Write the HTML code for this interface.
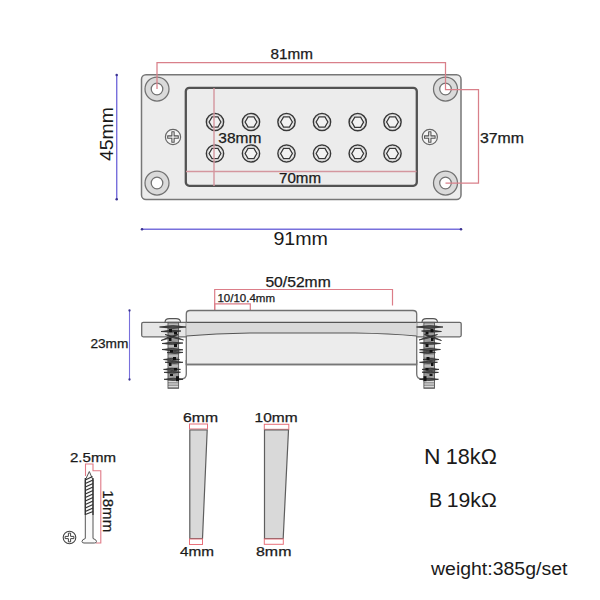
<!DOCTYPE html>
<html><head><meta charset="utf-8">
<style>
html,body{margin:0;padding:0;background:#fff;width:600px;height:600px;overflow:hidden}
svg{display:block}
text{font-family:"Liberation Sans",sans-serif;fill:#1a1a1a}
.s{stroke:#1a1a1a;stroke-width:0.25}
</style></head>
<body>
<svg width="600" height="600" viewBox="0 0 600 600">
<defs>
  <g id="pole">
    <circle r="8.6" fill="#f8f8f8" stroke="#383838" stroke-width="1.5"/>
    <circle r="7.3" fill="none" stroke="#c0c0c0" stroke-width="0.6"/>
    <polygon points="5.9,0 2.95,5.1 -2.95,5.1 -5.9,0 -2.95,-5.1 2.95,-5.1" fill="#f2f2f2" stroke="#383838" stroke-width="1.3"/>
  </g>
  <g id="washer">
    <circle r="12" fill="#dadada" stroke="#727272" stroke-width="1.25"/>
    <circle r="5.8" fill="#fff" stroke="#727272" stroke-width="1.25"/>
  </g>
  <g id="phil">
    <circle r="7.6" fill="#f4f4f4" stroke="#666" stroke-width="1.2"/>
    <path d="M-1.15,-5.3 h2.3 v4.15 h4.15 v2.3 h-4.15 v4.15 h-2.3 v-4.15 h-4.15 v-2.3 h4.15 z" fill="#e6e6e6" stroke="#555" stroke-width="1.05" stroke-linejoin="round"/>
  </g>
</defs>

<!-- ===== TOP VIEW ===== -->
<rect x="141.5" y="74.7" width="319.5" height="124.8" rx="4.5" fill="#ececec" stroke="#777" stroke-width="1.5"/>
<rect x="185.8" y="87.8" width="231" height="98" rx="3.5" fill="#ececec" stroke="#525252" stroke-width="2.3"/>

<use href="#washer" x="157" y="89"/>
<use href="#washer" x="157" y="183"/>
<use href="#washer" x="445.5" y="89"/>
<use href="#washer" x="445.5" y="183"/>

<use href="#phil" x="173" y="137"/>
<use href="#phil" x="429.8" y="137"/>

<use href="#pole" x="215" y="122"/>
<use href="#pole" x="251" y="122"/>
<use href="#pole" x="286.5" y="122"/>
<use href="#pole" x="322" y="122"/>
<use href="#pole" x="357.7" y="122.2"/>
<use href="#pole" x="392.5" y="122"/>
<use href="#pole" x="215" y="153.5"/>
<use href="#pole" x="251" y="153.5"/>
<use href="#pole" x="286.5" y="153.5"/>
<use href="#pole" x="322" y="153.5"/>
<use href="#pole" x="357.7" y="153.5"/>
<use href="#pole" x="392.5" y="153.5"/>

<!-- red dims -->
<g fill="none" stroke="#d9808a" stroke-width="1.25">
  <polyline points="157,89 157,62.5 445.5,62.5 445.5,89.5 478.5,89.5 478.5,183 445.5,183"/>
</g>
<g fill="none" stroke="#d4969e" stroke-width="1.4">
  <line x1="214" y1="88" x2="214" y2="186"/>
  <line x1="186" y1="171.5" x2="416.5" y2="171.5"/>
</g>
<text class="s" x="270.6" y="59.3" font-size="14" textLength="42.4" lengthAdjust="spacingAndGlyphs">81mm</text>
<text class="s" x="218.3" y="143" font-size="14.5" textLength="43" lengthAdjust="spacingAndGlyphs">38mm</text>
<text class="s" x="279.0" y="183" font-size="13.8" textLength="42" lengthAdjust="spacingAndGlyphs">70mm</text>
<text class="s" x="480.0" y="142.8" font-size="13.8" textLength="44.0" lengthAdjust="spacingAndGlyphs">37mm</text>

<!-- blue dims -->
<g stroke="#7870dc" stroke-width="1.45" fill="#3a3290">
  <line x1="116.7" y1="75" x2="116.7" y2="199"/>
  <line x1="142" y1="229.3" x2="461" y2="229.3"/>
</g>
<g fill="#3a3290">
  <circle cx="116.7" cy="75" r="1.25"/><circle cx="116.7" cy="199.3" r="1.25"/>
  <circle cx="142" cy="229.3" r="1.25"/><circle cx="461" cy="229.3" r="1.25"/>
</g>
<text transform="translate(113.2,161) rotate(-90)" font-size="18" textLength="53.8" lengthAdjust="spacingAndGlyphs">45mm</text>
<text x="273.4" y="244.8" font-size="17.5" textLength="54.6" lengthAdjust="spacingAndGlyphs">91mm</text>

<!-- ===== SIDE VIEW ===== -->
<g fill="none" stroke="#dc7d88" stroke-width="1.2">
  <polyline points="214.7,310 214.7,289.5 392.5,289.5 392.5,305.5"/>
  <polyline points="214.7,310 214.7,303.8 250.3,303.8 250.3,310"/>
</g>
<text class="s" x="265.4" y="286.7" font-size="14" textLength="65.3" lengthAdjust="spacingAndGlyphs">50/52mm</text>
<text class="s" x="217.4" y="301.6" font-size="10.6" textLength="57.6" lengthAdjust="spacingAndGlyphs">10/10.4mm</text>

<!-- legs -->
<path d="M186.3,360 V374 Q186.3,379 181,379 H178" fill="none" stroke="#777" stroke-width="1.4"/>
<path d="M416.7,360 V374 Q416.7,379 422,379 H424" fill="none" stroke="#777" stroke-width="1.4"/>
<!-- flange -->
<rect x="141.7" y="322.3" width="319.5" height="14.5" rx="1.5" fill="#e6e6e6" stroke="#6a6a6a" stroke-width="1.3"/>
<!-- body -->
<path d="M186.3,364.5 V314 Q186.3,310.5 190,310.5 H413 Q416.7,310.5 416.7,314 V364.5 Z" fill="#ececec" stroke="#707070" stroke-width="1.3"/>
<path d="M186.3,322.3 H416.7 V336 Q390,333.5 355,333 H250 Q215,333.5 186.3,336 Z" fill="#d9d9d9" stroke="none"/>
<path d="M186.3,336 Q215,333.5 250,333 H355 Q390,333.5 416.7,336" fill="none" stroke="#555" stroke-width="1.2"/>
<line x1="186.3" y1="322.3" x2="416.7" y2="322.3" stroke="#555" stroke-width="1.3"/>
<line x1="186.3" y1="364.5" x2="416.7" y2="364.5" stroke="#777" stroke-width="1.3"/>

<!-- screws w/ springs -->
<g id="sscrew">
  <path d="M165,322.3 Q165,318.6 169.5,318.6 H176 Q180.5,318.6 180.5,322.3 Z" fill="#f4f4f4" stroke="#555" stroke-width="1.1"/>
  <rect x="168" y="322.3" width="10.6" height="66" fill="#9a9a9a" stroke="#555" stroke-width="0.9"/>
  <g stroke="#e0e0e0" stroke-width="0.9"><path d="M168.5,381.5 h9.6 M168.5,384 h9.6 M168.5,386.5 h9.6 M168.5,325 h9.6 M168.5,346 h9.6 M168.5,356 h9.6 M168.5,366 h9.6"/></g>
  <g fill="#505050" stroke="#262626" stroke-width="0.7">
    <path d="M159.5,327 Q172.8,324.2 186,327 Q172.8,329.8 159.5,327Z M161,331.5 Q171.0,329.2 181,331 Q171.0,333.2 161,331.5Z M161,340.5 Q169.5,335.9 178,334.5 Q169.5,339.1 161,340.5Z M165,334.5 Q174.2,335.6 183.5,340 Q174.2,338.9 165,334.5Z M162,343.5 Q172.5,341.1 183,343 Q172.5,345.4 162,343.5Z M162,349.5 Q172.5,347.2 183,349.8 Q172.5,352.0 162,349.5Z M167,352.6 Q175.0,350.7 183,352.4 Q175.0,354.3 167,352.6Z M163.5,359.5 Q171.5,357.3 179.5,359.5 Q171.5,361.7 163.5,359.5Z M165,362.3 Q174.0,360.3 183,362.3 Q174.0,364.3 165,362.3Z M163.5,369.4 Q172.0,367.2 180.5,369.4 Q172.0,371.6 163.5,369.4Z M164,372.4 Q172.2,370.5 180.5,372.2 Q172.2,374.1 164,372.4Z M164,379.3 Q173.5,377.1 183,379.3 Q173.5,381.5 164,379.3Z"/>
  </g>
  <g fill="#111">
    <path d="M169,329 h3 v3 h-3z M174,332 h3 v2.5 h-3z M169,338 h2.5 v3 h-2.5z M174,344 h3 v3 h-3z M170,350 h3 v2.5 h-3z M173,357 h3 v3 h-3z M169,363 h2.5 v3 h-2.5z M174,368 h3 v2.5 h-3z M170,374 h3 v2 h-3z"/>
    <rect x="176" y="376.2" width="3" height="5"/>
  </g>
</g>
<use href="#sscrew" transform="translate(602.5,0) scale(-1,1)"/>

<!-- 23mm blue -->
<line x1="129.5" y1="310.5" x2="129.5" y2="379.5" stroke="#7870dc" stroke-width="1.1"/>
<circle cx="129.5" cy="310.5" r="1.15" fill="#3a3290"/><circle cx="129.5" cy="379.5" r="1.15" fill="#3a3290"/>
<text class="s" x="90.4" y="347.7" font-size="13" textLength="38.0" lengthAdjust="spacingAndGlyphs">23mm</text>

<!-- ===== BOTTOM ===== -->
<!-- screw -->
<g fill="none" stroke="#e07a86" stroke-width="1.1">
  <polyline points="85.5,476 85.5,464 93,464 93,470.8 100.8,470.8 100.8,543 96,543"/>
</g>
<path d="M85.3,480 L89.3,471.5 L93,480 V538.5 Q96.5,539.5 96.5,541.5 Q96.5,543 94.5,543 H84 Q82,543 82,541.5 Q82,539.5 85.3,538.5 Z" fill="#fafafa" stroke="#555" stroke-width="1"/>
<g stroke="#333" stroke-width="1.3">
  <path d="M85.3,480 L92.5,476.5 M85.3,483.5 L93,480 M85.3,487 L93,483.5 M85.3,490.5 L93,487 M85.3,494 L93,490.5 M85.3,497.5 L93,494 M85.3,501 L93,497.5 M85.3,504.5 L93,501 M85.3,508 L93,504.5 M85.3,511.5 L93,508 M85.3,514.5 L93,511.5"/>
</g>
<g stroke="#333" stroke-width="1.3"><path d="M85.3,478 V515 M93,478 V515"/></g>
<g transform="translate(69.5,537.5)">
  <circle r="6.3" fill="#fff" stroke="#444" stroke-width="1.1"/>
  <path d="M-1.1,-4.4 h2.2 v3.3 h3.3 v2.2 h-3.3 v3.3 h-2.2 v-3.3 h-3.3 v-2.2 h3.3 z" fill="#fff" stroke="#444" stroke-width="1"/>
</g>
<text class="s" x="70.0" y="461.5" font-size="13" textLength="46.0" lengthAdjust="spacingAndGlyphs">2.5mm</text>
<text class="s" transform="translate(102.6,490.3) rotate(90)" font-size="14" textLength="42" lengthAdjust="spacingAndGlyphs">18mm</text>

<!-- magnets -->
<rect x="189.5" y="424" width="18" height="5" fill="none" stroke="#e8707a" stroke-width="1"/>
<path d="M189.8,430 H207.2 L202.5,538.5 H189.8 Z" fill="#d9d9d9" stroke="#5e5e5e" stroke-width="1.2"/>
<rect x="189.5" y="539" width="13" height="5.5" fill="none" stroke="#e8707a" stroke-width="1"/>
<text class="s" x="183.0" y="421.5" font-size="13" textLength="35.0" lengthAdjust="spacingAndGlyphs">6mm</text>
<text class="s" x="180.0" y="556" font-size="13" textLength="34.0" lengthAdjust="spacingAndGlyphs">4mm</text>

<rect x="264.3" y="424.3" width="24.5" height="5" fill="none" stroke="#e8707a" stroke-width="1"/>
<path d="M264.5,430 H288.5 L283.2,538.5 H264.5 Z" fill="#d9d9d9" stroke="#5e5e5e" stroke-width="1.2"/>
<rect x="264.3" y="539" width="19" height="5.3" fill="none" stroke="#e8707a" stroke-width="1"/>
<text class="s" x="254.6" y="422.4" font-size="13" textLength="43.0" lengthAdjust="spacingAndGlyphs">10mm</text>
<text class="s" x="256.0" y="556" font-size="13" textLength="35.4" lengthAdjust="spacingAndGlyphs">8mm</text>

<!-- specs -->
<text x="424.1" y="463.6" font-size="21.5" textLength="16.5" lengthAdjust="spacingAndGlyphs">N</text><text x="445.8" y="463.6" font-size="21.5" textLength="51" lengthAdjust="spacingAndGlyphs">18kΩ</text>
<text x="429.1" y="507" font-size="20.5" textLength="13.2" lengthAdjust="spacingAndGlyphs">B</text><text x="446.8" y="507" font-size="20.5" textLength="50" lengthAdjust="spacingAndGlyphs">19kΩ</text>
<text x="431.0" y="575.3" font-size="17.5" textLength="136.4" lengthAdjust="spacingAndGlyphs">weight:385g/set</text>
</svg>
</body></html>
